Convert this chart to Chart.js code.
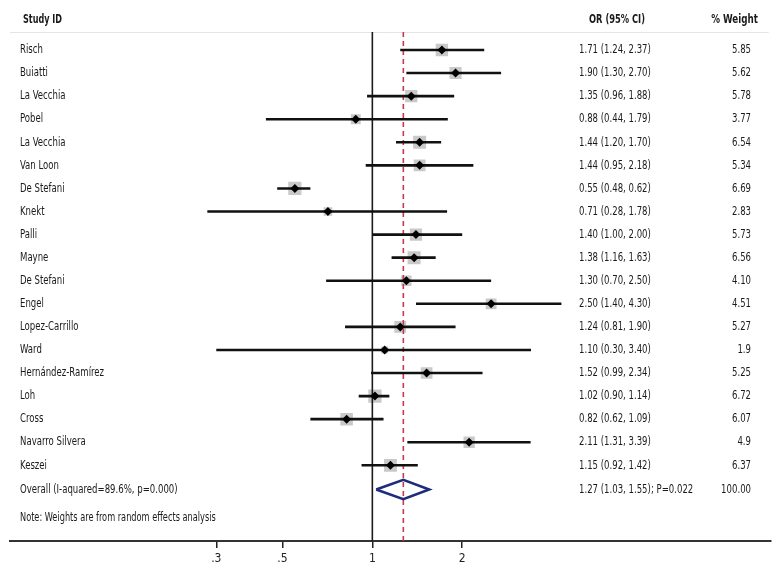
<!DOCTYPE html>
<html>
<head>
<meta charset="utf-8">
<script src="https://cdn.jsdelivr.net/npm/chart.js@4/dist/chart.umd.min.js"></script>
<style>
  html, body { margin: 0; padding: 0; background: #fff; }
  #wrap { width: 780px; height: 576px; }
</style>
</head>
<body>
<div id="wrap"><canvas id="c" width="780" height="576"></canvas></div>
<script>
// ---- Data ----
const studies = ['Risch','Buiatti','La Vecchia','Pobel','La Vecchia','Van Loon','De Stefani','Knekt','Palli','Mayne','De Stefani','Engel','Lopez-Carrillo','Ward','Hernández-Ramírez','Loh','Cross','Navarro Silvera','Keszei'];
const orValues = [1.71,1.90,1.35,0.88,1.44,1.44,0.55,0.71,1.40,1.38,1.30,2.50,1.24,1.10,1.52,1.02,0.82,2.11,1.15];
const ciLower = [1.24,1.30,0.96,0.44,1.20,0.95,0.48,0.28,1.00,1.16,0.70,1.40,0.81,0.30,0.99,0.90,0.62,1.31,0.92];
const ciUpper = [2.37,2.70,1.88,1.79,1.70,2.18,0.62,1.78,2.00,1.63,2.50,4.30,1.90,3.40,2.34,1.14,1.09,3.39,1.42];
const weightText = ['5.85','5.62','5.78','3.77','6.54','5.34','6.69','2.83','5.73','6.56','4.10','4.51','5.27','1.9','5.25','6.72','6.07','4.9','6.37'];
const overallLabel = 'Overall (I-aquared=89.6%, p=0.000)';
const overallEstimate = [1.27, 1.03, 1.55]; // OR, lower, upper
const overallText = '1.27 (1.03, 1.55); P=0.022';
const overallWeight = '100.00';
const noteText = 'Note: Weights are from random effects analysis';
const tickValues = [0.3, 0.5, 1, 2];
const tickLabels = ['.3', '.5', '1', '2'];
const headers = ['Study ID', 'OR (95% CI)', '% Weight'];

// ---- Layout constants (rows on the y scale) ----
const Y_TOP = -0.78, Y_BOTTOM = 21.28;
const Y_OVERALL = 19.05, Y_NOTE = 20.26;
const FONT = '"DejaVu Sans Condensed", "DejaVu Sans", sans-serif';

const ciLineData = [];
studies.forEach((s, i) => {
  ciLineData.push({x: ciLower[i], y: i}, {x: ciUpper[i], y: i}, {x: ciUpper[i], y: null});
});
const pointData = orValues.map((v, i) => ({x: v, y: i}));
const squareSizes = weightText.map(w => 3.6 * Math.sqrt(parseFloat(w)));
const [ovOR, ovLo, ovHi] = overallEstimate;
const diamondData = [
  {x: ovLo, y: Y_OVERALL}, {x: ovOR, y: Y_OVERALL - 0.42},
  {x: ovHi, y: Y_OVERALL}, {x: ovOR, y: Y_OVERALL + 0.42}, {x: ovLo, y: Y_OVERALL}
];

function drawText(ctx, str, x, y, align, sx) {
  ctx.save();
  ctx.translate(x, y);
  ctx.scale(sx, 1);
  ctx.textAlign = align;
  ctx.fillText(str, 0, 0);
  ctx.restore();
}

const textPlugin = {
  id: 'forestText',
  beforeDatasetsDraw(chart) {
    const {ctx, chartArea} = chart;
    ctx.save();
    ctx.strokeStyle = '#e4e4e4';
    ctx.lineWidth = 1;
    ctx.beginPath();
    ctx.moveTo(chartArea.left, chartArea.top + 0.5);
    ctx.lineTo(chartArea.right - 2, chartArea.top + 0.5);
    ctx.stroke();
    ctx.restore();
  },
  afterDraw(chart) {
    const {ctx} = chart;
    const ys = chart.scales.y;
    ctx.save();
    ctx.fillStyle = '#1a1a1a';
    ctx.textBaseline = 'middle';
    // headers
    ctx.font = 'bold 12.5px ' + FONT;
    drawText(ctx, headers[0], 23, 20, 'left', 0.72);
    drawText(ctx, headers[1], 589, 20, 'left', 0.74);
    drawText(ctx, headers[2], 758, 20, 'right', 0.78);
    // rows
    ctx.font = '12.5px ' + FONT;
    const sx = 0.76;
    studies.forEach((s, i) => {
      const y = ys.getPixelForValue(i);
      drawText(ctx, s, 20, y, 'left', sx);
      drawText(ctx, `${orValues[i].toFixed(2)} (${ciLower[i].toFixed(2)}, ${ciUpper[i].toFixed(2)})`, 579, y, 'left', sx);
      drawText(ctx, weightText[i], 751, y, 'right', sx);
    });
    const yo = ys.getPixelForValue(Y_OVERALL);
    drawText(ctx, overallLabel, 20, yo, 'left', sx);
    drawText(ctx, overallText, 579, yo, 'left', sx);
    drawText(ctx, overallWeight, 751, yo, 'right', sx);
    ctx.font = '12px ' + FONT;
    drawText(ctx, noteText, 20, ys.getPixelForValue(Y_NOTE), 'left', 0.76);
    ctx.restore();
  }
};

new Chart(document.getElementById('c'), {
  type: 'scatter',
  data: {
    datasets: [
      { // weight squares
        type: 'scatter', data: pointData, pointStyle: 'rect',
        pointRadius: squareSizes, pointBackgroundColor: '#c9c9c9', pointBorderWidth: 0,
        borderColor: 'rgba(0,0,0,0)', order: 6
      },
      { // null line
        type: 'line', data: [{x: 1, y: Y_TOP}, {x: 1, y: Y_BOTTOM}],
        borderColor: '#1a1a1a', borderWidth: 1.6, pointRadius: 0, order: 5
      },
      { // overall line
        type: 'line', data: [{x: ovOR, y: Y_TOP}, {x: ovOR, y: Y_BOTTOM}],
        borderColor: '#c43a4c', borderWidth: 1.6, borderDash: [5, 4], pointRadius: 0, order: 4
      },
      { // CI lines
        type: 'line', data: ciLineData, borderColor: '#111', borderWidth: 2.6,
        pointRadius: 0, spanGaps: false, order: 3
      },
      { // point estimates
        type: 'scatter', data: pointData, pointStyle: 'rectRot', pointRadius: 4.5,
        pointBackgroundColor: '#000', pointBorderWidth: 0, order: 2
      },
      { // overall diamond
        type: 'line', data: diamondData, borderColor: '#1f2b7b', borderWidth: 2.6,
        pointRadius: 0, fill: false, tension: 0, order: 1
      }
    ]
  },
  options: {
    responsive: false,
    animation: false,
    events: [],
    layout: { padding: { top: 32, left: 10, right: 8, bottom: 0 } },
    plugins: { legend: { display: false }, tooltip: { enabled: false } },
    scales: {
      x: {
        type: 'logarithmic',
        min: 0.0611, max: 21.6,
        bounds: 'data',
        afterBuildTicks: (scale) => { scale.ticks = tickValues.map(v => ({value: v})); },
        afterFit: (scale) => { scale.height = 35; },
        ticks: {
          autoSkip: false, maxRotation: 0, padding: 4, color: '#222',
          font: { family: FONT, size: 12 },
          callback: (v) => { const k = tickValues.indexOf(v); return k >= 0 ? tickLabels[k] : ''; }
        },
        grid: { display: true, drawOnChartArea: false, drawTicks: true, tickLength: 7, color: '#222', lineWidth: 1.5 },
        border: { display: true, color: '#333', width: 2 }
      },
      y: {
        type: 'linear', reverse: true, min: Y_TOP, max: Y_BOTTOM, display: false
      }
    }
  },
  plugins: [textPlugin]
});
</script>
</body>
</html>
